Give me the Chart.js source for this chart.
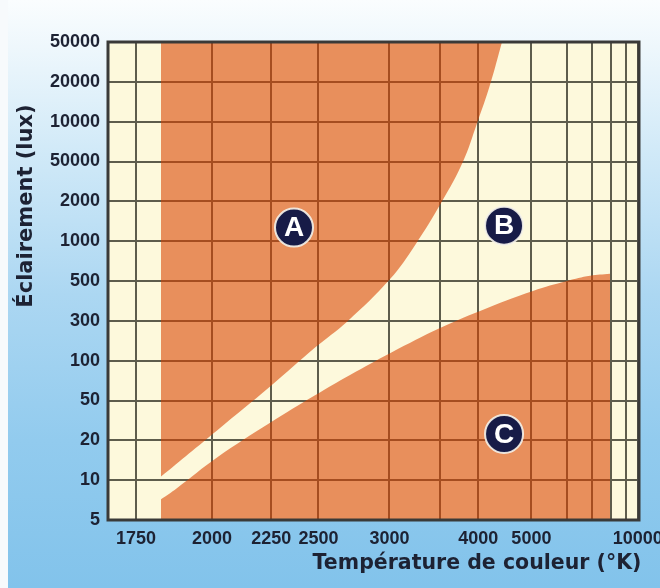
<!DOCTYPE html>
<html lang="fr">
<head>
  <meta charset="UTF-8" />
  <title>Courbe de Kruithof</title>
  <script src="https://cdn.jsdelivr.net/npm/chart.js"></script>
  <style>
    html, body {
      margin: 0;
      padding: 0;
    }
    .wrap {
      width: 660px;
      height: 588px;
      background:
        linear-gradient(90deg, #f7fafc 0, #f7fafc 8px, rgba(255,255,255,0) 8px),
        linear-gradient(180deg, #fafdfe 0%, #eef7fc 8%, #d2eaf8 25%, #acd7f2 50%, #92cbee 75%, #82c3eb 100%);
    }
    canvas {
      display: block;
    }
  </style>
</head>
<body>
  <div class="wrap">
    <canvas id="kruithof" width="660" height="588"></canvas>
  </div>

  <script>
    // eclairement : les graduations (de bas en haut), telles qu'écrites sur l'original
    const luxLabels = ['5', '10', '20', '50', '100', '300', '500', '1000', '2000', '50000', '10000', '20000', '50000'];

    // température de couleur (K)
    const gridTemps = [1750, 2000, 2250, 2500, 3000, 3500, 4000, 5000, 6000, 7000, 8000, 9000, 10000];
    const tempLabels = [1750, 2000, 2250, 2500, 3000, 4000, 5000, 10000];
    const tempMin = 1673;
    const tempMax = 10110;

    // zone A : limite basse (la zone remplit jusqu'en haut)
    const zoneATemps = [1825, 2019, 2245, 2480, 2680, 3005, 3233, 3522, 3785, 3983, 4188, 4394];
    const zoneARows  = [1.09, 2.25, 3.35, 4.33, 4.98, 6.05, 6.9, 8.0, 9.0, 9.96, 10.93, 12];

    // zone C : limite haute (la zone remplit jusqu'en bas)
    const zoneCTemps = [1825, 1876, 2019, 2245, 2480, 2700, 3013, 3499, 4029, 5038, 6006, 6901, 7930];
    const zoneCRows  = [0.52, 0.8, 1.57, 2.44, 3.13, 3.64, 4.2, 4.82, 5.25, 5.75, 6.0, 6.13, 6.18];

    // repères
    const zoneNames = ['A', 'B', 'C'];
    const zoneMarkTemps = [2364, 4431, 4431];
    const zoneMarkRows = [7.34, 7.39, 2.16];

    const mired = t => 1e6 / t;
    const toPoints = (temps, rows) => temps.map((t, i) => ({ x: mired(t), y: rows[i] }));

    const cream = '#fdf9dc';
    const orange = 'rgba(217, 66, 0, 0.58)';
    const ink = '#1d2233';

    const plotBackground = {
      id: 'plotBackground',
      beforeDraw(chart) {
        const { ctx, chartArea: a } = chart;
        ctx.save();
        ctx.fillStyle = cream;
        ctx.fillRect(a.left, a.top, a.right - a.left, a.bottom - a.top);
        ctx.restore();
      }
    };

    const frameAndTitles = {
      id: 'frameAndTitles',
      afterDatasetsDraw(chart) {
        const { ctx } = chart;
        const meta = chart.getDatasetMeta(0);
        ctx.save();
        ctx.fillStyle = '#ffffff';
        ctx.font = 'bold 28px "Liberation Sans", Arial, sans-serif';
        ctx.textAlign = 'center';
        ctx.textBaseline = 'middle';
        meta.data.forEach((pt, i) => {
          ctx.fillText(zoneNames[i], pt.x, pt.y + 1);
        });
        ctx.restore();
      },
      afterDraw(chart) {
        const { ctx, chartArea: a } = chart;
        ctx.save();
        ctx.strokeStyle = '#3a3a38';
        ctx.lineWidth = 3;
        ctx.strokeRect(a.left, a.top, a.right - a.left, a.bottom - a.top);

        ctx.fillStyle = ink;
        ctx.font = 'bold 20.5px "DejaVu Sans", sans-serif';
        ctx.textAlign = 'center';
        ctx.textBaseline = 'alphabetic';
        ctx.fillText('Température de couleur (°K)', 477, 569);

        ctx.translate(27, 206);
        ctx.rotate(-Math.PI / 2);
        ctx.font = 'bold 21px "DejaVu Sans", sans-serif';
        ctx.textBaseline = 'middle';
        ctx.fillText('Éclairement (lux)', 0, 0);
        ctx.restore();
      }
    };

    new Chart(document.getElementById('kruithof'), {
      type: 'scatter',
      data: {
        datasets: [
          {
            data: toPoints(zoneMarkTemps, zoneMarkRows),
            pointRadius: 19,
            pointBackgroundColor: '#171b47',
            pointBorderColor: 'rgba(245, 243, 235, 0.9)',
            pointBorderWidth: 2
          },
          {
            data: toPoints(zoneATemps, zoneARows),
            showLine: true,
            fill: 'end',
            tension: 0.4,
            backgroundColor: orange,
            borderWidth: 0,
            pointRadius: 0
          },
          {
            data: toPoints(zoneCTemps, zoneCRows),
            showLine: true,
            fill: 'start',
            tension: 0.4,
            backgroundColor: orange,
            borderWidth: 0,
            pointRadius: 0
          }
        ]
      },
      options: {
        responsive: false,
        animation: false,
        layout: {
          padding: { top: 42, right: 21, bottom: 0, left: 0 }
        },
        scales: {
          x: {
            type: 'linear',
            reverse: true,
            min: mired(tempMax),
            max: mired(tempMin),
            border: { display: false },
            grid: {
              color: '#5e5d4c',
              lineWidth: 2,
              drawTicks: false
            },
            afterBuildTicks: scale => {
              scale.ticks = gridTemps.map(t => ({ value: mired(t) }));
            },
            afterFit: scale => {
              scale.height = 68;
              scale.paddingLeft = 0;
              scale.paddingRight = 0;
            },
            ticks: {
              autoSkip: false,
              maxRotation: 0,
              minRotation: 0,
              padding: 8,
              color: ink,
              font: { family: '"Liberation Sans", Arial, sans-serif', size: 18, weight: 'bold' },
              callback: value => {
                const t = Math.round(1e6 / value);
                return tempLabels.includes(t) ? String(t) : '';
              }
            }
          },
          y: {
            type: 'linear',
            min: 0,
            max: 12,
            border: { display: false },
            grid: {
              color: '#5e5d4c',
              lineWidth: 2,
              drawTicks: false
            },
            afterFit: scale => {
              scale.width = 108;
              scale.paddingTop = 0;
              scale.paddingBottom = 0;
            },
            ticks: {
              stepSize: 1,
              padding: 8,
              color: ink,
              font: { family: '"Liberation Sans", Arial, sans-serif', size: 18, weight: 'bold' },
              callback: value => luxLabels[value]
            }
          }
        },
        plugins: {
          legend: { display: false },
          tooltip: { enabled: false }
        }
      },
      plugins: [plotBackground, frameAndTitles]
    });
  </script>
</body>
</html>
